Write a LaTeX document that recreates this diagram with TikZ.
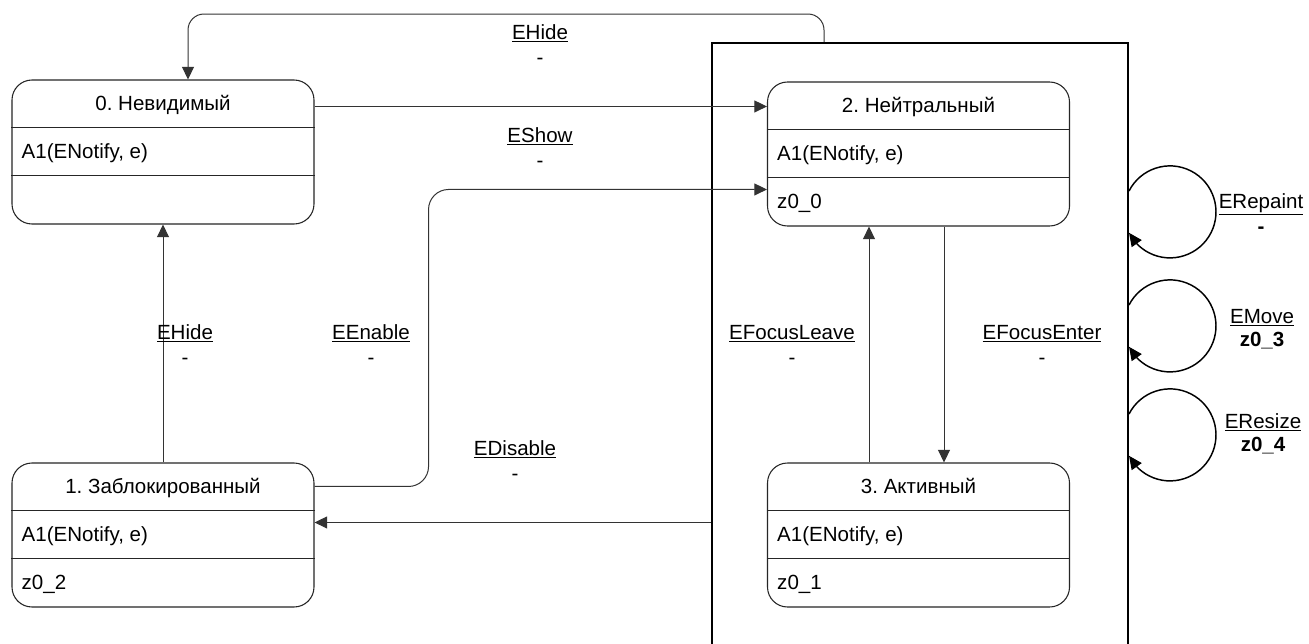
\documentclass[tikz,border=0pt]{standalone}
\usepackage{fontspec}
\setmainfont{Liberation Sans}
\usetikzlibrary{calc,arrows.meta,bending}
\frenchspacing

\begin{document}
\begin{tikzpicture}[x=0.75pt,y=-0.75pt,
  every node/.style={font=\fontsize{15.4}{18}\selectfont, inner sep=0pt, text=black},
  statebox/.style={draw=black!85, line width=0.8pt, rounded corners=15pt,
    minimum width=226.5pt, minimum height=108pt},
  divider/.style={draw=black!85, line width=0.8pt},
  superbox/.style={draw=black, line width=1.5pt, minimum width=312pt,
    minimum height=493.5pt, anchor=north west},
  conn/.style={draw=black!80, line width=0.75pt,
    -{Triangle[length=9.5pt,width=9pt]}},
  selfloop/.style={draw=black, line width=1.1pt,
    -{Triangle[length=10pt,width=9pt,flex]}},
  title/.style={anchor=base},
  row/.style={anchor=base west},
  evt/.style={anchor=base},
]
\path[use as bounding box, fill=white] (0,0) rectangle (1309,643);
\clip (0,0) rectangle (1309,643);

% composite state frame (runs past the lower edge)
\node[superbox] (sup) at (711,42) {};

% states
\node[statebox] (s0) at (163,152) {};
\node[statebox] (s1) at (163,535) {};
\node[statebox] (s2) at (918.5,154) {};
\node[statebox] (s3) at (918.5,535) {};

\foreach \s in {s0,s1,s2,s3}{
  \draw[divider] ($(\s.north west)+(0,48)$) -- ($(\s.north east)+(0,48)$);
  \draw[divider] ($(\s.north west)+(0,96)$) -- ($(\s.north east)+(0,96)$);
}

\node[title] (s0t) at ($(s0.north)+(0,31)$) {0. Невидимый};
\node[row] (s0a) at ($(s0.north west)+(10,79)$) {A1(ENotify, e)};

\node[title] (s1t) at ($(s1.north)+(0,31)$) {1. Заблокированный};
\node[row] (s1a) at ($(s1.north west)+(10,79)$) {A1(ENotify, e)};
\node[row] (s1z) at ($(s1.north west)+(10,127)$) {z0\_2};

\node[title] (s2t) at ($(s2.north)+(0,31)$) {2. Нейтральный};
\node[row] (s2a) at ($(s2.north west)+(10,79)$) {A1(ENotify, e)};
\node[row] (s2z) at ($(s2.north west)+(10,127)$) {z0\_0};

\node[title] (s3t) at ($(s3.north)+(0,31)$) {3. Активный};
\node[row] (s3a) at ($(s3.north west)+(10,79)$) {A1(ENotify, e)};
\node[row] (s3z) at ($(s3.north west)+(10,127)$) {z0\_1};

% transitions
\draw[conn, rounded corners=12pt] ($(sup.north west)+(113,0)$) -- ++(0,-28)
  -| ($(s0.north)+(25,0)$);
\draw[conn] ($(s0.north east)+(0,27)$) -- ($(s2.north west)+(0,25)$);
\draw[conn, rounded corners=15pt] ($(s1.north east)+(0,24)$) -- ++(114,0)
  |- ($(s2.north west)+(0,108)$);
\draw[conn] (s1.north) -- (s0.south);
\coordinate (s1in) at ($(s1.north east)+(0,60)$);
\draw[conn] (sup.west |- s1in) -- (s1in);
\draw[conn] ($(s3.north)+(-49.5,0)$) -- ($(s2.south)+(-49.5,0)$);
\draw[conn] ($(s2.south)+(25.5,0)$) -- ($(s3.north)+(25.5,0)$);

% internal self transitions of the composite state
\draw[selfloop] ($(sup.north east)+(0,149)$) arc[start angle=-153, end angle=153, radius=46];
\draw[selfloop] ($(sup.north east)+(0,263)$) arc[start angle=-153, end angle=153, radius=46];
\draw[selfloop] ($(sup.north east)+(0,372)$) arc[start angle=-153, end angle=153, radius=46];

% transition labels
\node[evt] (lh1) at (540,39) {\underline{EHide}};
\node[evt] (lh1a) at (540,64) {-};
\node[evt] (ls) at (540,142) {\underline{EShow}};
\node[evt] (lsa) at (540,167) {-};
\node[evt] (lh2) at (185,339) {\underline{EHide}};
\node[evt] (lh2a) at (185,364) {-};
\node[evt] (le) at (371,339) {\underline{EEnable}};
\node[evt] (lea) at (371,364) {-};
\node[evt] (ld) at (515,455) {\underline{EDisable}};
\node[evt] (lda) at (515,480) {-};
\node[evt] (lfl) at (792,339) {\underline{EFocusLeave}};
\node[evt] (lfla) at (792,364) {-};
\node[evt] (lfe) at (1042,339) {\underline{EFocusEnter}};
\node[evt] (lfea) at (1042,364) {-};
\node[evt] (lr) at (1261,208) {\underline{ERepaint}};
\node[evt] (lra) at (1261,233) {\bfseries -};
\node[evt] (lm) at (1262,323) {\underline{EMove}};
\node[evt] (lma) at (1262,346) {\bfseries z0\_3};
\node[evt] (lz) at (1263,428) {\underline{EResize}};
\node[evt] (lza) at (1263,451) {\bfseries z0\_4};
\end{tikzpicture}
\end{document}
